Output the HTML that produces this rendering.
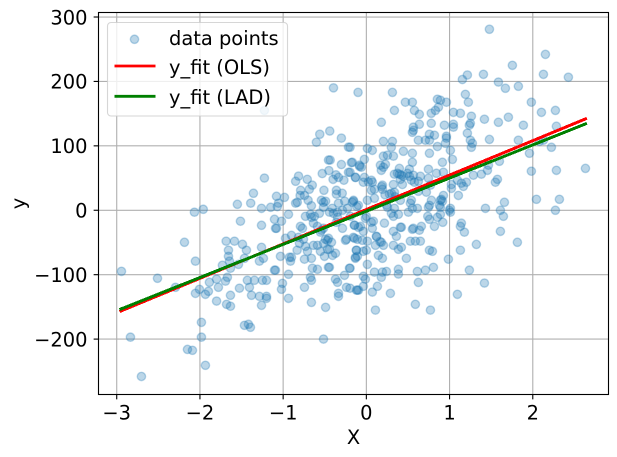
<!DOCTYPE html>
<html>
<head>
<meta charset="utf-8">
<title>Scatter with OLS and LAD fits</title>
<style>
html,body{margin:0;padding:0;background:#fff;}
svg{display:block;font-family:"DejaVu Sans","Liberation Sans",sans-serif;}
</style>
</head>
<body>
<svg id="chart" xmlns="http://www.w3.org/2000/svg" width="617" height="457" viewBox="0 0 617 457"></svg>
<script>
const xTicks = [-3, -2, -1, 0, 1, 2];
const yTicks = [-200, -100, 0, 100, 200, 300];
const xDomain = [-3.219, 2.91];
const yDomain = [-286, 307];

const fitX = [-2.95, 2.633];
const olsY = [-156.4, 141.8];
const ladY = [-153.3, 134];

const topLeftX = [
-1.225,-0.395,-0.10,-0.56,-0.44,-0.30,-0.60,-0.215,-0.455,-0.435,
-0.30,-0.18,-0.08,-0.53,-0.45,-0.365,-0.215,-0.13,-0.815,-0.85,
-0.71,-0.40,-0.335,-0.27,-1.225,-0.65,-0.79,-0.685,-0.51,-0.36,
-1.357,-1.08,-0.984,-0.796,-0.744,-0.36,-0.29,-1.55,-1.39,-1.26,
-1.15,-1.056,-1.07,-0.85,-0.83,-0.70,-0.66,-0.54,-0.515,-0.49,
-0.41,-0.335,-0.26,-0.155,-0.115,-0.515,-1.96,-2.066];
const topLeftY = [
155,190,183,118,123,112,105.6,98,78,78,
71,74,68,57,61.6,55,59,51,53,45,
48,48,51,46.6,50,39,31,32.6,31,31,
26.4,21.7,20,23,23,25,26.4,9.3,11,3,
4.6,11,5.7,11,12.4,15.5,7,15.5,12.4,14,
3,11,14,15.5,5.7,4.6,1.5,-3];

const topRightX = [
1.479,2.152,1.755,1.214,1.154,1.407,2.128,2.428,1.587,1.671,
1.827,0.313,1.19,1.226,0.469,0.553,0.854,0.89,0.962,
1.983,0.866,0.83,0.337,0.577,0.637,0.78,1.046,1.13,2.104,
2.272,1.262,1.419,1.707,0.18,0.78,0.637,0.938,1.046,1.046,
1.25,1.238,1.587,1.887,2.284,0.565,0.553,0.565,1.214,0.758,
0.818,0.962,0.962,0.625,0.71,0.758,0.205,0.313,1.25,1.274,
1.262,1.479,1.827,0.95,0.854,-0.196,0.012,0.072,0.30,2.128,
2.08,2.224,1.01,0.445,0.553,0.758,1.96,0.205,0.253,0.325,
-0.024,-0.168,1.034,1.599,0.553,0.914,-0.084,-0.06,0.169,0.229,
0.18,0.205,0.397,0.517,0.746,1.467,1.455,1.983,2.284,2.633,
-0.196,-0.132,0.337,0.373,0.397,0.421,0.445,0.409,0.493,0.517,
0.565,0.541,0.577,0.649,0.625,0.746,0.842,0.926,1.286,1.382,
1.575,1.551,-0.024,-0.036,0.072,0.06,0.193,0.193,0.325,0.433,
0.06,0.097,0.301,0.337,0.277,0.625,0.721,1.022,1.022,1.094,
1.202,1.166,1.142,1.106,0.926,0.77,0.012,0.097,-0.156,0.409,
0.541,0.529,0.782,0.89,0.914,0.902,0.758,0.746,0.878,0.89,
1.01,1.659,1.431,2.044,2.32,2.272,-0.096,-0.168,0.253,0.337,
0.553,0.613,0.224,0.184,0.345,0.244,0.024];
const topRightY = [
281,242,225,210,203,211,211,206.5,199,189.4,
192.5,183,180,167.7,167.7,167.7,172.4,170.8,167.7,
167.7,160,155,155,155,149,150.6,152,150.6,152,
155,146,141.3,144.4,136.6,135,133.5,132,133.5,129,
135,132,136.6,132,130.4,129,121,124,119.6,118,
116.5,115,112,108.7,108.7,108.7,107,107,108.7,104,
97.8,110,108.7,104,99,97.8,96,93,97.8,108.7,
107,97.8,93,91.6,88.5,88.5,88.5,84,85.4,84,
79,74.5,79,76,74.5,74.5,70,66.8,70,71.4,
62,66.8,65,63.7,63.7,70,62,60.6,62,65,
59,51,56,57.4,56,54.4,52.8,48,57.4,52.8,
54.4,46.6,43.5,52.8,45,49.7,57.4,59,54.4,56,
48,43.5,51,43.5,43.5,46.6,39,32.6,40,40,
31,32.6,26.4,28,25,29.5,28,40,34,46.6,
43.5,37,42,23,23,39,15.5,18.6,14,15.5,
15.5,11,15.5,15.5,14,17,7.7,4.6,7.7,4.6,
3,12.4,3,17,17,0,7.7,12.4,4.6,3,
3,3,24,36.7,21,8,44];

const bottomRightX = [
1.611,1.647,1.611,1.815,1.142,1.13,1.178,1.322,1.13,0.986,
1.238,1.419,1.094,0.77,0.589,0.109,0.289,0.072,0.133,-0.036,
-0.108,-0.196,0.625,-0.036,-0.012,0.18,0.097,0.193,0.241,0.385,
0.385,0.613,0.71,0.806,0.012,-0.196,0.481,0.145,0.193,-0.132,
-0.108,-0.12,-0.036,0,0.385,0.421,0.325,0.109,0.758,0.794,
-0.156,-0.108,-0.048,0.012,0.18,0.205,0.529,0.589,0.649,0.12,
0.361,0.325,0.565,0.553,0.637,0.661,0.421,0.409,0.818,0.072,
-0.144,-0.096,-0.036,0.084,0.06,0.217,0.918,0.738,0.758,0.854,
0.89,0.325,0.301,0.385,0.505,1.01,0.998,0,-0.012,0.124,0.164];
const bottomRightY = [
0,-9.4,-32.7,-49.7,-20,-25,-34,-53,-62,-76,
-93,-113,-130.5,-155,-146,-155,-129,-127,-118,-118,
-124,-121,-112,-102.5,-107,-104,-96,-96,-95,-91.6,
-99,-95,-93,-88.6,-84,-90,-74.6,-70,-74.6,-74.6,
-71.5,-62,-63.7,-62,-60.6,-57.5,-54.4,-54.4,-62,-63.7,
-42,-45,-46.6,-48,-49.7,-54.4,-48,-48,-48,-40.4,
-40.4,-32.7,-28,-29.5,-31,-25,-26.4,-26.4,-25,-28,
-23,-26.4,-32.7,-17,-18.7,-20,-18.7,-9.4,-14,-11,
-6.3,-9.4,-4.7,-6.3,-3,-3,0,-9.4,-12.5,-41,-48.7];

const bottomLeftX = [
-2.943,-2.51,-2.294,-2.186,-2.054,-2.054,-2.006,-1.934,-1.898,-1.886,
-1.80,-1.778,-1.80,-1.693,-1.67,-1.68,-1.633,-1.633,-1.525,-1.43,
-1.345,-1.405,-1.38,-1.285,-1.2,-1.2,-1.26,-1.249,-1.2,-1.008,
-1.02,-0.936,-0.744,-0.66,-0.49,-0.515,-1.982,-1.982,-2.835,-2.703,
-2.15,-2.09,-1.934,-1.465,-1.417,-1.393,-1.685,-1.585,-1.489,-1.657,
-1.441,-1.657,-1.645,-1.465,-1.73,-1.633,-1.537,-1.26,-1.285,-1.237,
-1.513,-1.26,-1.104,-1.02,-1.092,-1.08,-0.936,-1.032,-1.104,-1.092,
-0.936,-0.972,-0.90,-0.924,-0.90,-0.912,-0.744,-0.66,-0.648,-0.588,
-0.672,-0.66,-0.456,-0.444,-0.503,-0.371,-0.407,-0.467,-0.832,-0.804,
-0.816,-0.732,-0.708,-0.636,-0.588,-0.552,-0.515,-0.467,-0.419,-0.443,
-0.792,-0.768,-0.756,-0.732,-0.672,-0.66,-0.624,-0.54,-0.552,-0.515,
-0.636,-0.588,-0.491,-0.455,-0.36,-0.287,-0.371,-0.347,-0.263,-0.239,
-0.335,-0.335,-0.203,-0.119,-0.095,-0.239,-0.143,-0.131,-0.119,-0.143,
-0.071,-0.251,-0.395,-0.347,-0.287,-0.227,-0.443,-0.564,-0.347,-0.191];
const bottomLeftY = [
-94.8,-105.6,-119.6,-49.7,-79,-129,-122.7,-130.5,-125.8,-111.8,
-107,-119.6,-141,-110,-104,-146,-149,-132,-121,-108.7,
-108.7,-119.6,-132,-133.6,-133.6,-136.7,-147.6,-108.7,-108.7,-113.4,
-122.7,-136.7,-119.6,-143,-150.7,-200,-174,-197,-197,-258,
-216,-217.4,-240.7,-178.6,-177,-181.7,-48,-48,-52.8,-62,
-62,-71.5,-79,-74.6,-85.4,-90,-84,-57.5,-79,-74.6,
-17,-23.3,-14,-17,-28,-28,-6.3,-71.5,-93,-93,
-99.4,-43.5,-39,-73,-73,-79,-76,-74.6,-90,-91.6,
-104,-108.7,-88.6,-88.6,-71.5,-66.8,-70,-60.6,-62,-51.3,
-42,-56,-63.7,-54.4,-54.4,-63.7,-51.3,-46.6,-49.7,-60.6,
-25,-28,-45,-9.4,-6.3,-11,-9.4,-31,-34,-28,
-20,-25,-45,-43.5,-18.7,-28,-107,-111.8,-101,-119.6,
-129,-133.6,-90,-124,-124,-45,-43.5,-73,-62,-23.3,
-25,-46.6,-4.7,-3,0,3,-3,-4.7,-11,-9.4];

const plotLeft = 98.5, plotRight = 608.5, plotTop = 12.5, plotBottom = 394.5;
const fontPx = 19.44;
const NS = 'http://www.w3.org/2000/svg';
const svg = document.getElementById('chart');

function xScale(v) {
  return plotLeft + (v - xDomain[0]) / (xDomain[1] - xDomain[0]) * (plotRight - plotLeft);
}
function yScale(v) {
  return plotBottom - (v - yDomain[0]) / (yDomain[1] - yDomain[0]) * (plotBottom - plotTop);
}
function make(tag, attrs, parent) {
  const el = document.createElementNS(NS, tag);
  for (const k in attrs) el.setAttribute(k, attrs[k]);
  (parent || svg).appendChild(el);
  return el;
}
function fmt(v) {
  return v < 0 ? '\u2212' + Math.abs(v) : String(v);
}

const gridGroup = make('g', {stroke: '#b0b0b0', 'stroke-width': 1.11});


xTicks.forEach(function (t) {
  const l = make('line', {x1: xScale(t), x2: xScale(t), y1: plotTop, y2: plotBottom}, gridGroup);
  
  
});
yTicks.forEach(function (t) {
  const l = make('line', {x1: plotLeft, x2: plotRight, y1: yScale(t), y2: yScale(t)}, gridGroup);
  
  
});

const pointsGroup = make('g', {fill: '#1f77b4', 'fill-opacity': 0.3, stroke: '#1f77b4', 'stroke-opacity': 0.3, 'stroke-width': 1.39});


[[topLeftX, topLeftY], [topRightX, topRightY], [bottomRightX, bottomRightY], [bottomLeftX, bottomLeftY]].forEach(function (region) {
  region[0].forEach(function (xv, i) {
    if (region[1][i] === undefined) return;
    const c = make('circle', {cx: xScale(xv), cy: yScale(region[1][i]), r: 4.17}, pointsGroup);
    
    
  });
});

const olsLine = make('line', {x1: xScale(fitX[0]), y1: yScale(olsY[0]), x2: xScale(fitX[1]), y2: yScale(olsY[1]), stroke: '#ff0000', 'stroke-width': 3, 'stroke-linecap': 'square', 'shape-rendering': 'crispEdges'});


const ladLine = make('line', {x1: xScale(fitX[0]), y1: yScale(ladY[0]), x2: xScale(fitX[1]), y2: yScale(ladY[1]), stroke: '#008000', 'stroke-width': 3, 'stroke-linecap': 'square', 'shape-rendering': 'crispEdges'});



const spines = make('rect', {x: plotLeft, y: plotTop, width: plotRight - plotLeft, height: plotBottom - plotTop, fill: 'none', stroke: '#000', 'stroke-width': 1.11});



xTicks.forEach(function (t) {
  const m = make('line', {x1: xScale(t), x2: xScale(t), y1: plotBottom, y2: plotBottom + 4.86, stroke: '#000', 'stroke-width': 1.11});
  
  
  const lab = make('text', {x: xScale(t), y: 419.5, 'text-anchor': 'middle', 'font-size': fontPx, fill: '#000'});
  
  
  lab.textContent = fmt(t);
});
yTicks.forEach(function (t) {
  const m = make('line', {x1: plotLeft - 4.86, x2: plotLeft, y1: yScale(t), y2: yScale(t), stroke: '#000', 'stroke-width': 1.11});
  
  
  const lab = make('text', {x: 87.5, y: yScale(t) + 7.3, 'text-anchor': 'end', 'font-size': fontPx, fill: '#000'});
  
  
  lab.textContent = fmt(t);
});

const xTitle = make('text', {x: 353.5, y: 444, 'text-anchor': 'middle', 'font-size': fontPx, fill: '#000'});


xTitle.textContent = 'X';
const yTitle = make('text', {x: 0, y: 0, transform: 'translate(25 203.5) rotate(-90)', 'text-anchor': 'middle', 'font-size': fontPx, fill: '#000'});


yTitle.textContent = 'y';

const legend = make('g', {});


const legendBox = make('rect', {x: 107.5, y: 22.5, width: 180, height: 93.5, rx: 3.5, ry: 3.5, fill: '#fff', 'fill-opacity': 0.8, stroke: '#cccccc', 'stroke-opacity': 0.8, 'stroke-width': 1.11}, legend);


const legendMarker = make('circle', {cx: 134.5, cy: 39.3, r: 4.17, fill: '#1f77b4', 'fill-opacity': 0.3, stroke: '#1f77b4', 'stroke-opacity': 0.3, 'stroke-width': 1.39}, legend);


const legendOls = make('line', {x1: 114.5, x2: 155.5, y1: 66, y2: 66, stroke: '#ff0000', 'stroke-width': 2.78}, legend);


const legendLad = make('line', {x1: 114.5, x2: 155.5, y1: 96.3, y2: 96.3, stroke: '#008000', 'stroke-width': 2.78}, legend);


const legendText1 = make('text', {x: 169, y: 45, 'font-size': fontPx, fill: '#000'}, legend);


legendText1.textContent = 'data points';
const legendText2 = make('text', {x: 169, y: 74, 'font-size': fontPx, fill: '#000'}, legend);


legendText2.textContent = 'y_fit (OLS)';
const legendText3 = make('text', {x: 169, y: 104, 'font-size': fontPx, fill: '#000'}, legend);


legendText3.textContent = 'y_fit (LAD)';
</script>
</body>
</html>
